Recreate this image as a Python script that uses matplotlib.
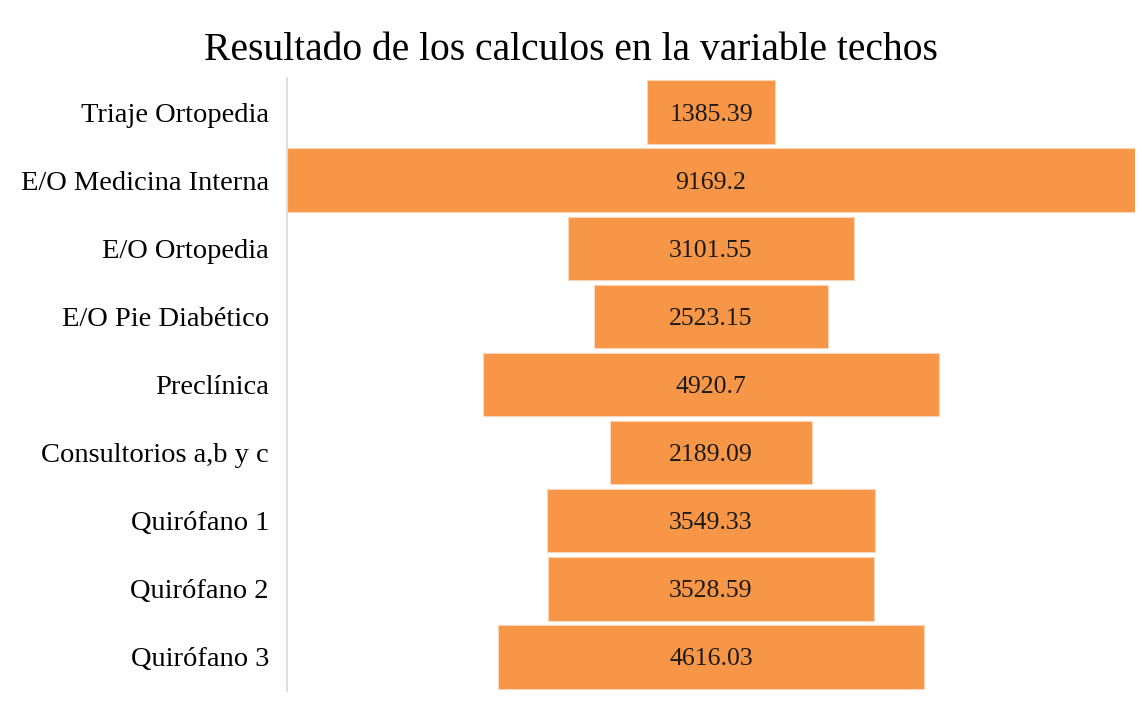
import matplotlib
matplotlib.use("Agg")
import matplotlib.pyplot as plt
import numpy as np

# Datos del embudo (variable techos)
categorias = ["Triaje Ortopedia", "E/O Medicina Interna", "E/O Ortopedia",
              "E/O Pie Diabético", "Preclínica", "Consultorios a,b y c",
              "Quirófano 1", "Quirófano 2", "Quirófano 3"]
valores = [1385.39, 9169.2, 3101.55, 2523.15, 4920.7, 2189.09,
           3549.33, 3528.59, 4616.03]
etiquetas = ["1385.39", "9169.2", "3101.55", "2523.15", "4920.7",
             "2189.09", "3549.33", "3528.59", "4616.03"]

plt.rcParams["font.family"] = ["Liberation Serif", "DejaVu Serif"]

fig = plt.figure(figsize=(11.42, 7.01), dpi=100)
ax = fig.add_axes([287 / 1142, 1 - 691 / 701, 848 / 1142, 613 / 701])

vmax = max(valores)
y = np.arange(len(categorias))
izq = [(vmax - v) / 2 for v in valores]
ax.barh(y, valores, left=izq, height=0.93, color="#F79646",
        edgecolor="#FBD5B5", linewidth=0.8)

for yi, xi, v, t in zip(y, izq, valores, etiquetas):
    ax.text(xi + v / 2, yi, t, ha="center", va="center_baseline",
            fontsize=18.5, color="#1a1a1a")

ax.set_xlim(0, vmax)
ax.set_ylim(len(categorias) - 0.5, -0.5)
ax.set_yticks(y)
ax.set_yticklabels(categorias, fontsize=20.5)
ax.tick_params(axis="y", length=0, pad=13)
ax.set_xticks([])
for s in ["top", "right", "bottom"]:
    ax.spines[s].set_visible(False)
ax.spines["left"].set_color("#D9D9D9")
ax.spines["left"].set_linewidth(1.2)

fig.text(0.5, 1 - 50 / 701, "Resultado de los calculos en la variable techos",
         ha="center", va="center", fontsize=28.5)

fig.savefig("out.png", dpi=100, facecolor="white")
